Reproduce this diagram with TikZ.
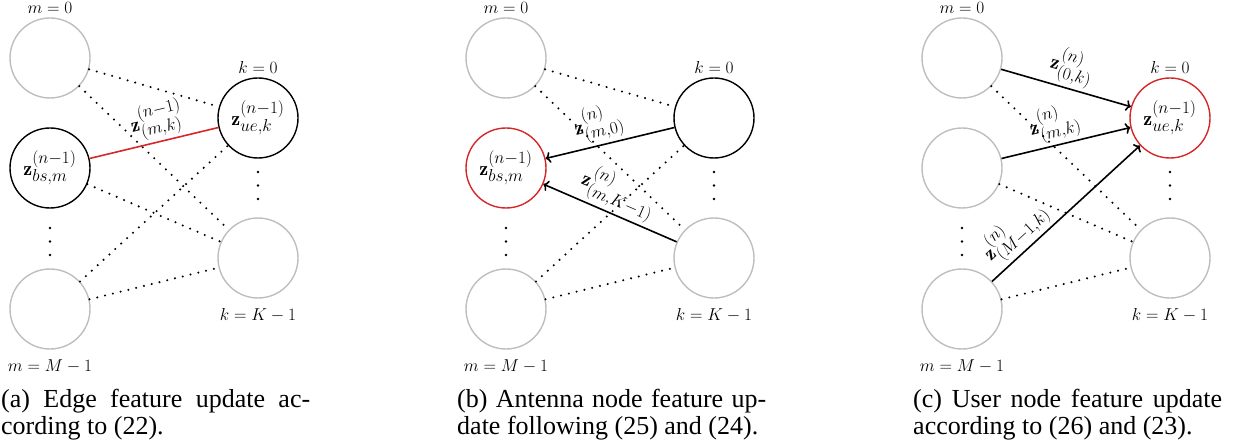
\documentclass[tikz,border=0pt]{standalone}
\usepackage{fontspec}
\usetikzlibrary{arrows.meta}
\newfontfamily\capfont{Liberation Serif}
% math sizes used in the picture (script sizes chosen explicitly)
\DeclareMathSizes{20}{20}{16}{11}
\DeclareMathSizes{17.5}{17.5}{12}{9}
\newcommand\vfont{\fontsize{20}{24}\selectfont}
\newcommand\lfont{\fontsize{17.5}{20}\selectfont}
\definecolor{nodegray}{RGB}{190,190,190}
\definecolor{hlred}{RGB}{214,39,40}
\tikzset{
  vtx/.style={circle, draw, minimum size=80pt, inner sep=0pt, line width=1.4pt, font=\vfont},
  idle/.style={vtx, draw=nodegray},
  act/.style={vtx, draw=black},
  hot/.style={vtx, draw=hlred},
  lnk/.style={line width=2.3pt, line cap=round, dash pattern=on 0pt off 8pt},
  msg/.style={-{To[length=5pt,width=11pt]}, line width=1.6pt},
  upd/.style={draw=hlred, line width=1.6pt},
  elbl/.style={font=\vfont, above, sloped, inner sep=3pt},
  toplbl/.style={font=\lfont, inner sep=2pt, label distance=1.5pt},
  botlbl/.style={font=\lfont, inner sep=2pt, label distance=8pt},
  captext/.style={font=\capfont\fontsize{26}{28}\selectfont, anchor=base west, inner sep=0pt},
  vdot/.style={fill=black},
}
\begin{document}
\begin{tikzpicture}[x=1pt, y=-1pt]
\useasboundingbox (0,0) rectangle (1238,446);

% ---------- (a) edge feature update ----------
\begin{scope}
  \node[idle, label={[toplbl]above:$m=0$}] (a0) at (50,58) {};
  \node[act] (a1) at (50,168) {$\mathbf{z}^{(n-1)}_{bs,m}$};
  \node[idle, label={[botlbl]below:$m=M-1$}] (a2) at (50,309) {};
  \node[act, label={[toplbl]above:$k=0$}] (b0) at (258,118) {$\mathbf{z}^{(n-1)}_{ue,k}$};
  \node[idle, label={[botlbl]below:$k=K-1$}] (b1) at (258,258) {};
  \draw[lnk] (a0) -- (b0);
  \draw[lnk] (a0) -- (b1);
  \draw[lnk] (a1) -- (b1);
  \draw[lnk] (a2) -- (b0);
  \draw[lnk] (a2) -- (b1);
  \draw[upd] (a1) -- node[elbl, pos=0.56] {$\mathbf{z}^{(n-1)}_{(m,k)}$} (b0);
  \foreach \y in {228,241.5,255} \fill[vdot] (50,\y) circle[radius=1.4pt];
  \foreach \y in {172,185.5,199} \fill[vdot] (258,\y) circle[radius=1.4pt];
  \node[captext] (capa1) at (1,407) {\makebox[309pt][s]{(a) Edge feature update ac-}};
  \node[captext] (capa2) at (1,434.5) {cording to (22).};
\end{scope}

% ---------- (b) antenna node feature update ----------
\begin{scope}[xshift=456pt]
  \node[idle, label={[toplbl]above:$m=0$}] (c0) at (50,58) {};
  \node[hot] (c1) at (50,168) {$\mathbf{z}^{(n-1)}_{bs,m}$};
  \node[idle, label={[botlbl]below:$m=M-1$}] (c2) at (50,309) {};
  \node[act, label={[toplbl]above:$k=0$}] (d0) at (258,118) {};
  \node[idle, label={[botlbl]below:$k=K-1$}] (d1) at (258,258) {};
  \draw[lnk] (c0) -- (d0);
  \draw[lnk] (c0) -- (d1);
  \draw[lnk] (c2) -- (d0);
  \draw[lnk] (c2) -- (d1);
  \draw[msg] (d0) -- node[elbl, pos=0.55] {$\mathbf{z}^{(n)}_{(m,0)}$} (c1);
  \draw[msg] (d1) -- node[elbl, pos=0.5] {$\mathbf{z}^{(n)}_{(m,K-1)}$} (c1);
  \foreach \y in {228,241.5,255} \fill[vdot] (50,\y) circle[radius=1.4pt];
  \foreach \y in {172,185.5,199} \fill[vdot] (258,\y) circle[radius=1.4pt];
  \node[captext] (capb1) at (1,407) {\makebox[309pt][s]{(b) Antenna node feature up-}};
  \node[captext] (capb2) at (1,434.5) {date following (25) and (24).};
\end{scope}

% ---------- (c) user node feature update ----------
\begin{scope}[xshift=912pt]
  \node[idle, label={[toplbl]above:$m=0$}] (e0) at (50,58) {};
  \node[idle] (e1) at (50,168) {};
  \node[idle, label={[botlbl]below:$m=M-1$}] (e2) at (50,309) {};
  \node[hot, label={[toplbl]above:$k=0$}] (f0) at (258,118) {$\mathbf{z}^{(n-1)}_{ue,k}$};
  \node[idle, label={[botlbl]below:$k=K-1$}] (f1) at (258,258) {};
  \draw[lnk] (e0) -- (f1);
  \draw[lnk] (e1) -- (f1);
  \draw[lnk] (e2) -- (f1);
  \draw[msg] (e0) -- node[elbl, pos=0.5] {$\mathbf{z}^{(n)}_{(0,k)}$} (f0);
  \draw[msg] (e1) -- node[elbl, pos=0.45] {$\mathbf{z}^{(n)}_{(m,k)}$} (f0);
  \draw[msg] (e2) -- node[elbl, pos=0.25] {$\mathbf{z}^{(n)}_{(M-1,k)}$} (f0);
  \foreach \y in {228,241.5,255} \fill[vdot] (50,\y) circle[radius=1.4pt];
  \foreach \y in {172,185.5,199} \fill[vdot] (258,\y) circle[radius=1.4pt];
  \node[captext] (capc1) at (1,407) {\makebox[309pt][s]{(c) User node feature update}};
  \node[captext] (capc2) at (1,434.5) {according to (26) and (23).};
\end{scope}
\end{tikzpicture}
\end{document}
